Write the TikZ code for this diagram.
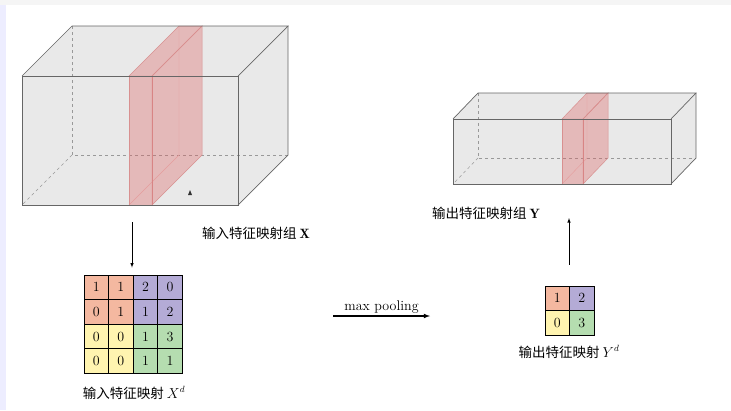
\documentclass[tikz,border=0pt]{standalone}
\usepackage{fontspec}
\newfontfamily\cjk{Noto Sans CJK SC}
\usetikzlibrary{arrows, positioning, calc}
\definecolor{cellorange}{HTML}{F4B8A0}
\definecolor{cellpurple}{HTML}{B4ABD6}
\definecolor{cellyellow}{HTML}{FFF4B0}
\definecolor{cellgreen}{HTML}{B5DDB0}
\definecolor{slabred}{HTML}{DD6060}
\definecolor{slabedge}{HTML}{D89090}

\begin{document}
\begin{tikzpicture}[
        x=1pt, y=-1pt,
        font=\fontsize{14}{17}\selectfont,
        cell/.style={draw, line width=0.8pt, minimum size=24.6pt, inner sep=0pt},
        face/.style={fill=gray!17},
        edge/.style={draw=black!60, line width=0.7pt},
        hidden/.style={draw=black!40, dashed, line width=0.5pt},
        slab/.style={fill=slabred, fill opacity=0.35, draw=slabedge, line width=0.5pt},
        lbl/.style={font=\cjk\fontsize{13.5}{16}\selectfont},
        arr/.style={-latex, line width=0.6pt}
    ]
        \useasboundingbox (0,0) rectangle (731,410);
        \fill[black!4] (0,0) rectangle (731,5);
        \fill[blue!7] (0,5) rectangle (6,410);

        % input feature maps X
        \coordinate (a1) at (22,76);   \coordinate (a2) at (238,76);
        \coordinate (a3) at (238,205); \coordinate (a4) at (22,205);
        \coordinate (b1) at (72,26);   \coordinate (b2) at (288,26);
        \coordinate (b3) at (288,155); \coordinate (b4) at (72,155);
        \fill[face] (a4) -- (a1) -- (b1) -- (b2) -- (b3) -- (a3) -- cycle;
        \draw[hidden] (b1) -- (b4) -- (b3);
        \draw[hidden] (b4) -- (a4);
        \draw[slabedge!60, line width=0.4pt] (179,26) -- (179,155) -- (129,205);
        \draw[slab] (129,76) rectangle (152,205);
        \draw[slab] (129,76) -- (152,76) -- (202,26) -- (179,26) -- cycle;
        \draw[slab] (152,76) -- (202,26) -- (202,155) -- (152,205) -- cycle;
        \draw[edge] (a1) rectangle (a3);
        \draw[edge] (a1) -- (b1) -- (b2) -- (a2);
        \draw[edge] (b2) -- (b3) -- (a3);
        \fill[black!80] (188,195) -- (192,195) -- (190,190) -- cycle;
        \node[lbl] (xlabel) at (256,233) {输入特征映射组 $\mathbf{X}$};

        % output feature maps Y
        \coordinate (c1) at (453,119); \coordinate (c2) at (671,119);
        \coordinate (c3) at (671,184); \coordinate (c4) at (453,184);
        \coordinate (d1) at (478,93);  \coordinate (d2) at (696,93);
        \coordinate (d3) at (696,158); \coordinate (d4) at (478,158);
        \fill[face] (c4) -- (c1) -- (d1) -- (d2) -- (d3) -- (c3) -- cycle;
        \draw[hidden] (d1) -- (d4) -- (d3);
        \draw[hidden] (d4) -- (c4);
        \draw[slabedge!60, line width=0.4pt] (587,93) -- (587,158) -- (562,184);
        \draw[slab] (562,119) rectangle (583,184);
        \draw[slab] (562,119) -- (583,119) -- (608,93) -- (587,93) -- cycle;
        \draw[slab] (583,119) -- (608,93) -- (608,158) -- (583,184) -- cycle;
        \draw[edge] (c1) rectangle (c3);
        \draw[edge] (c1) -- (d1) -- (d2) -- (c2);
        \draw[edge] (d2) -- (d3) -- (c3);
        \node[lbl] (ylabel) at (486,213) {输出特征映射组 $\mathbf{Y}$};

        % input slice X^d
        \foreach \r/\c/\v/\col in {1/1/1/cellorange, 1/2/1/cellorange, 1/3/2/cellpurple, 1/4/0/cellpurple,
                                   2/1/0/cellorange, 2/2/1/cellorange, 2/3/1/cellpurple, 2/4/2/cellpurple,
                                   3/1/0/cellyellow, 3/2/0/cellyellow, 3/3/1/cellgreen,  3/4/3/cellgreen,
                                   4/1/0/cellyellow, 4/2/0/cellyellow, 4/3/1/cellgreen,  4/4/1/cellgreen}
            \node[cell, fill=\col] (x\r\c) at ({96.3+24.6*(\c-1)}, {287.3+24.6*(\r-1)}) {\v};
        \node[lbl] (xdlabel) at (134,393) {输入特征映射 $X^d$};

        % output slice Y^d
        \foreach \r/\c/\v/\col in {1/1/1/cellorange, 1/2/2/cellpurple,
                                   2/1/0/cellyellow, 2/2/3/cellgreen}
            \node[cell, fill=\col] (y\r\c) at ({557.3+24.6*(\c-1)}, {298.3+24.6*(\r-1)}) {\v};
        \node[lbl] (ydlabel) at (569,352) {输出特征映射 $Y^d$};

        % connectors
        \coordinate (xdown) at (132,222);
        \coordinate (yup) at (569,218);
        \coordinate (poolin) at (333,316);
        \coordinate (poolout) at (430,316);
        \draw[arr, shorten >=7pt] (xdown) -- (xdown |- x12.north);
        \draw[arr, shorten <=21pt] (yup |- y11.north) -- (yup);
        \draw[arr, line width=1.1pt] (poolin) -- node[above, inner sep=2.5pt] {max pooling} (poolout);
    \end{tikzpicture}
\end{document}
